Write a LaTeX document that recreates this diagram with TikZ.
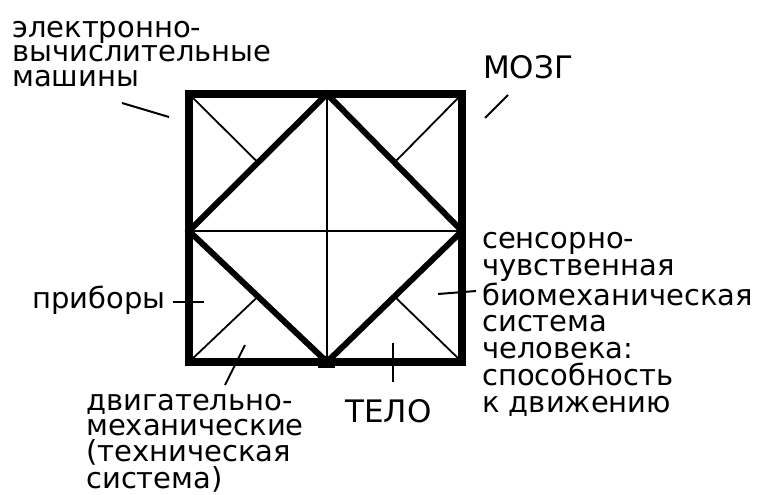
\documentclass[tikz,border=0pt]{standalone}
\usepackage{fontspec}
\setmainfont{DejaVu Sans}
\begin{document}
\begin{tikzpicture}[x=1pt,y=-1pt,
  lbl/.style={inner sep=0pt, anchor=base west, align=left, font=\fontsize{29}{24.5}\selectfont},
  lblr/.style={lbl, font=\fontsize{29}{26.7}\selectfont},
  lbld/.style={lbl, font=\fontsize{29}{25.3}\selectfont},
  big/.style={inner sep=0pt, anchor=base west, font=\fontsize{31}{31}\selectfont},
  frame/.style={line width=7.5pt, line join=miter},
  diam/.style={line width=6pt, line join=miter},
  thin/.style={line width=1.8pt},
  leader/.style={line width=2pt}]
\useasboundingbox (0,0) rectangle (760,495);
% square corners and diamond vertices
\coordinate (A) at (189,94);
\coordinate (B) at (462,94);
\coordinate (C) at (462,362);
\coordinate (D) at (189,362);
\coordinate (Ntop) at (327,94);
\coordinate (Nright) at (462,231);
\coordinate (Nbot) at (327,362);
\coordinate (Nleft) at (189,231);
\coordinate (mTL) at (258,162.5);
\coordinate (mTR) at (394.5,162.5);
\coordinate (mBR) at (394.5,296.5);
\coordinate (mBL) at (258,296.5);
% thin lines
\draw[thin] (Ntop) -- (Nbot);
\draw[thin] (Nleft) -- (Nright);
\draw[thin] (A) -- (mTL);
\draw[thin] (B) -- (mTR);
\draw[thin] (C) -- (mBR);
\draw[thin] (D) -- (mBL);
% diamond
\draw[diam] (Ntop) -- (Nright) -- (Nbot) -- (Nleft) -- cycle;
% frame
\draw[frame] (A) -- (B) -- (C) -- (D) -- cycle;
\fill (318,356) rectangle (335,368);
% labels (anchor = baseline of the last line)
\node[lbl] (evm) at (12,86) {электронно-\\вычислительные\\машины};
\node[big] (mozg) at (483,78) {МОЗГ};
\node[lbl] (pribory) at (32,308) {приборы};
\node[lblr] (sens) at (482,412) {сенсорно-\\чувственная\\биомеханическая\\система\\человека:\\способность\\ к движению};
\node[lbld] (dvig) at (86,488) {двигательно-\\механические\\(техническая\\система)};
\node[big] (telo) at (345,422) {ТЕЛО};
% leaders
\coordinate (e1) at (122,103); \coordinate (e2) at (169,117);
\coordinate (m1) at (485,118); \coordinate (m2) at (508,95);
\coordinate (p1) at (173,302); \coordinate (p2) at (204,302);
\coordinate (d1) at (245,345); \coordinate (d2) at (225,385);
\coordinate (t1) at (393,343); \coordinate (t2) at (393,382);
\coordinate (s1) at (438,294); \coordinate (s2) at (476,291);
\draw[leader] (e1) -- (e2);
\draw[leader] (m1) -- (m2);
\draw[leader] (p1) -- (p2);
\draw[leader] (d1) -- (d2);
\draw[leader] (t1) -- (t2);
\draw[leader] (s1) -- (s2);
\end{tikzpicture}
\end{document}
